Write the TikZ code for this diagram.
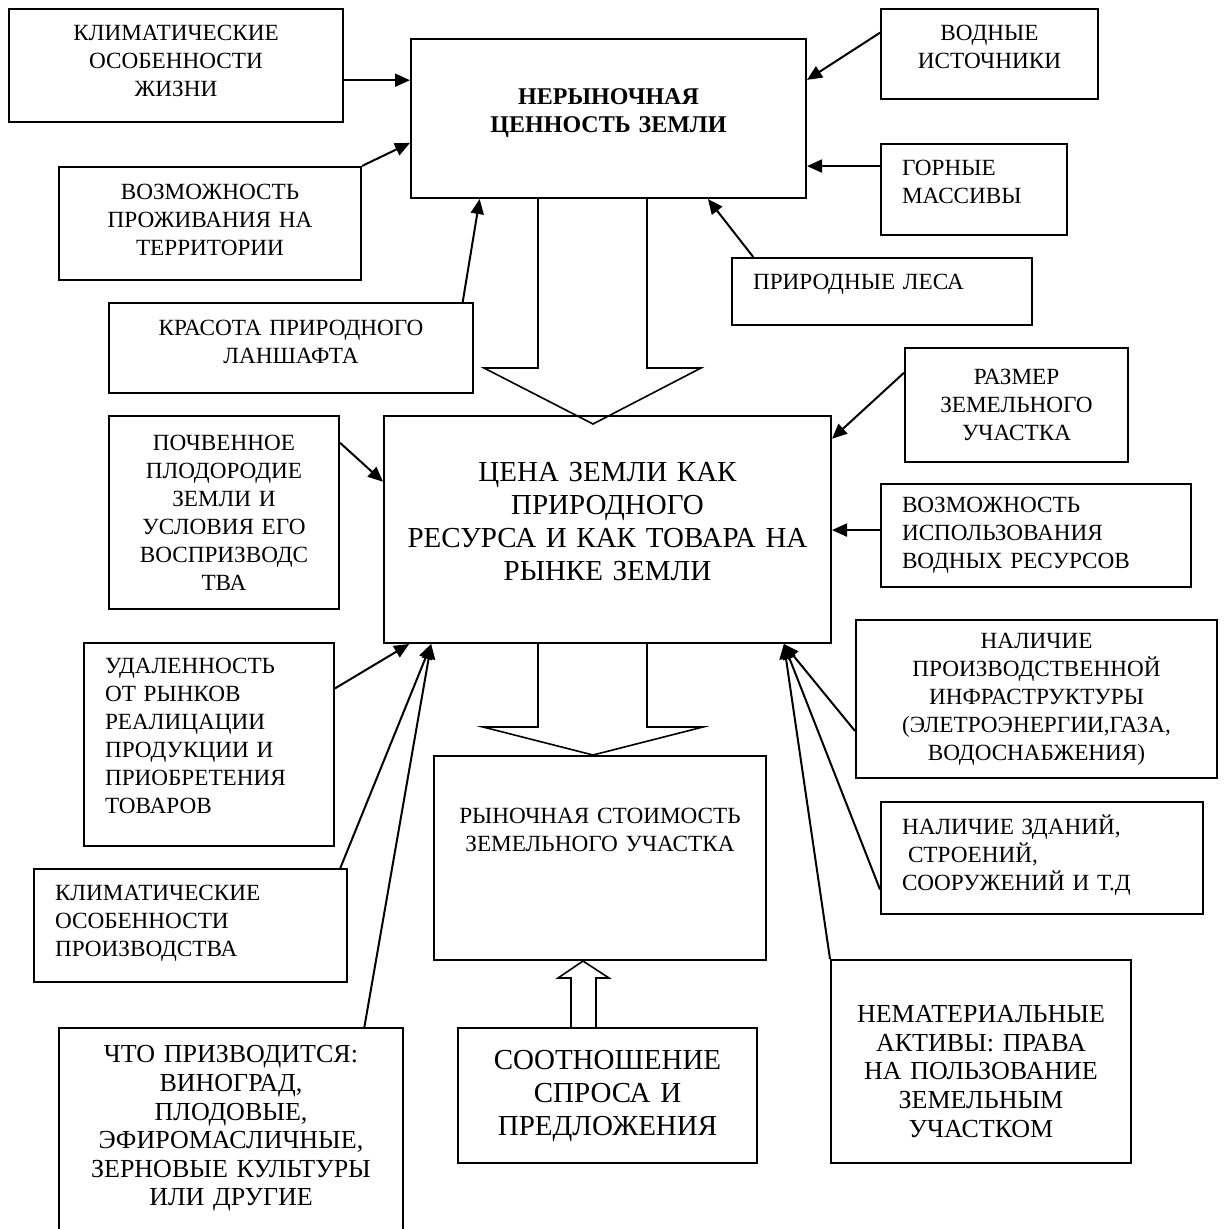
\documentclass[tikz,border=0pt]{standalone}
\usepackage{fontspec}
\setmainfont{Liberation Serif}
\usetikzlibrary{arrows.meta}

\newcommand{\normtext}{\fontsize{11.6}{14}\selectfont}
\newcommand{\midtext}{\fontsize{13}{14.3}\selectfont}
\newcommand{\largetext}{\fontsize{14.5}{16.5}\selectfont}
\newcommand{\liftpad}[1]{\endgraf\vspace*{#1}}

\begin{document}
\begin{tikzpicture}[x=0.5pt, y=-0.5pt, line width=1pt,
    >={Triangle[length=7.5pt, width=6.5pt]},
    box/.style={draw, rectangle, inner xsep=2pt, inner ysep=0pt, align=center, font=\normtext},
    lbox/.style={box, align=left, inner xsep=10.5pt},
    liftby/.style={execute at end node={\liftpad{#1}}},
    bigarrow/.style={line width=0.8pt}]

    \useasboundingbox (0,0) rectangle (1224,1229);
    \clip (0,0) rectangle (1224,1229);

    % Nodes: upper block
    \node (klimzhizn) [box, minimum width=167pt, minimum height=56.5pt, text width=163pt, liftby=4.5pt] at (176,65.5) {КЛИМАТИЧЕСКИЕ\\ОСОБЕННОСТИ\\ЖИЗНИ};
    \node (nerynok) [box, font=\fontsize{12}{14}\selectfont\bfseries, minimum width=197.5pt, minimum height=79.5pt, text width=193.5pt, liftby=5.5pt] at (608.5,118.5) {НЕРЫНОЧНАЯ\\ЦЕННОСТЬ ЗЕМЛИ};
    \node (prozhiv) [box, minimum width=151pt, minimum height=56.5pt, text width=147pt, liftby=3.5pt] at (210,223.5) {ВОЗМОЖНОСТЬ\\ПРОЖИВАНИЯ НА\\ТЕРРИТОРИИ};
    \node (krasota) [box, minimum width=182pt, minimum height=45pt, text width=178pt, liftby=6pt] at (291,348) {КРАСОТА ПРИРОДНОГО\\ЛАНШАФТА};
    \node (vodnye) [box, minimum width=108.5pt, minimum height=45pt, text width=104.5pt, liftby=7pt] at (989.5,54) {ВОДНЫЕ\\ИСТОЧНИКИ};
    \node (gornye) [lbox, minimum width=93pt, minimum height=45.5pt, text width=72pt, liftby=7.5pt] at (974,189.5) {ГОРНЫЕ\\МАССИВЫ};
    \node (lesa) [lbox, minimum width=150pt, minimum height=33.5pt, text width=129pt, liftby=7.5pt] at (882,291.5) {ПРИРОДНЫЕ ЛЕСА};

    % Nodes: middle block
    \node (cena) [box, font=\largetext, minimum width=223.5pt, minimum height=113.5pt, text width=219.5pt, liftby=7.5pt] at (607.5,529.5) {ЦЕНА ЗЕМЛИ КАК\\ПРИРОДНОГО\\РЕСУРСА И КАК ТОВАРА НА\\РЫНКЕ ЗЕМЛИ};
    \node (razmer) [box, minimum width=111.5pt, minimum height=57pt, text width=107.5pt] at (1016.5,405) {РАЗМЕР\\ЗЕМЕЛЬНОГО\\УЧАСТКА};
    \node (pochva) [box, minimum width=115pt, minimum height=96.5pt, text width=111pt] at (224,512.5) {ПОЧВЕННОЕ\\ПЛОДОРОДИЕ\\ЗЕМЛИ И\\УСЛОВИЯ ЕГО\\ВОСПРИЗВОДС\\ТВА};
    \node (vodres) [lbox, minimum width=155pt, minimum height=51.5pt, text width=134pt] at (1036,535.5) {ВОЗМОЖНОСТЬ\\ИСПОЛЬЗОВАНИЯ\\ВОДНЫХ РЕСУРСОВ};
    \node (udal) [lbox, minimum width=125pt, minimum height=101.5pt, text width=104pt, liftby=8.5pt] at (209,744.5) {УДАЛЕННОСТЬ\\ОТ РЫНКОВ\\РЕАЛИЦАЦИИ\\ПРОДУКЦИИ И\\ПРИОБРЕТЕНИЯ\\ТОВАРОВ};
    \node (infra) [box, minimum width=180.5pt, minimum height=79pt, text width=176.5pt] at (1036.5,699) {НАЛИЧИЕ\\ПРОИЗВОДСТВЕННОЙ\\ИНФРАСТРУКТУРЫ\\(ЭЛЕТРОЭНЕРГИИ,ГАЗА,\\ВОДОСНАБЖЕНИЯ)};

    % Nodes: lower block
    \node (rynok) [box, minimum width=166pt, minimum height=102pt, text width=162pt, liftby=28pt] at (600,858) {РЫНОЧНАЯ СТОИМОСТЬ\\ЗЕМЕЛЬНОГО УЧАСТКА};
    \node (zdaniya) [lbox, minimum width=161pt, minimum height=56pt, text width=140pt, liftby=3pt] at (1042,858) {НАЛИЧИЕ ЗДАНИЙ,\\\hspace*{3pt}СТРОЕНИЙ,\\СООРУЖЕНИЙ И Т.Д};
    \node (klimproizv) [lbox, minimum width=156.5pt, minimum height=56.5pt, text width=135.5pt, liftby=2.5pt] at (190.5,925.5) {КЛИМАТИЧЕСКИЕ\\ОСОБЕННОСТИ\\ПРОИЗВОДСТВА};
    \node (chto) [box, font=\midtext, minimum width=172pt, minimum height=107pt, text width=168pt, liftby=6.5pt] at (231,1135) {ЧТО ПРИЗВОДИТСЯ:\\ВИНОГРАД,\\ПЛОДОВЫЕ,\\ЭФИРОМАСЛИЧНЫЕ,\\ЗЕРНОВЫЕ КУЛЬТУРЫ\\ИЛИ ДРУГИЕ};
    \node (sootn) [box, font=\largetext, minimum width=149.5pt, minimum height=67.5pt, text width=145.5pt] at (607.5,1095.5) {СООТНОШЕНИЕ\\СПРОСА И\\ПРЕДЛОЖЕНИЯ};
    \node (nemat) [box, font=\midtext, minimum width=150pt, minimum height=101.5pt, text width=146pt, liftby=-10pt] at (981,1061.5) {НЕМАТЕРИАЛЬНЫЕ\\АКТИВЫ: ПРАВА\\НА ПОЛЬЗОВАНИЕ\\ЗЕМЕЛЬНЫМ\\УЧАСТКОМ};

    % Arrows into the upper block
    \draw[->] (klimzhizn.355.7) -- (nerynok.west |- klimzhizn.355.7);
    \draw[->] (prozhiv.north east) -- (nerynok.187.6);
    \draw[->] (krasota.15.1) -- (nerynok.212.6);
    \draw[->] (vodnye.169) -- (nerynok.11.6);
    \draw[->] (gornye.166.4) -- (nerynok.east |- gornye.166.4);
    \draw[->] (lesa.165.9) -- (nerynok.321.7);

    % Arrows into the middle block
    \draw[->] (razmer.164) -- (cena.22.3);
    \draw[->] (pochva.31.5) -- (cena.168.2);
    \draw[->] (vodres.178) -- (cena.east |- vodres.178);
    \draw[->] (udal.24.7) -- (cena.210.5);
    \draw[->] (klimproizv.21.5) -- (cena.213);
    \draw[->] (chto.39.7) -- (cena.213);
    \draw[->] (infra.190.4) -- (cena.327.4);
    \draw[->] (zdaniya.191.2) -- (cena.327.4);
    \draw[->] (nemat.north west) -- (cena.327.4);

    % Hollow block arrows
    \draw[bigarrow] (538,0 |- nerynok.south) -- (538,368) -- (484,368) -- (593,424) -- (701,368) -- (647,368) -- (647,0 |- nerynok.south);
    \draw[bigarrow] (538,0 |- cena.south) -- (538,727) -- (483,727) -- (rynok.north -| 593,0) -- (703,727) -- (647,727) -- (647,0 |- cena.south);
    \draw[bigarrow] (571,0 |- sootn.north) -- (571,978) -- (558,978) -- (rynok.south -| 583,0) -- (609,978) -- (596,978) -- (596,0 |- sootn.north);

\end{tikzpicture}
\end{document}
